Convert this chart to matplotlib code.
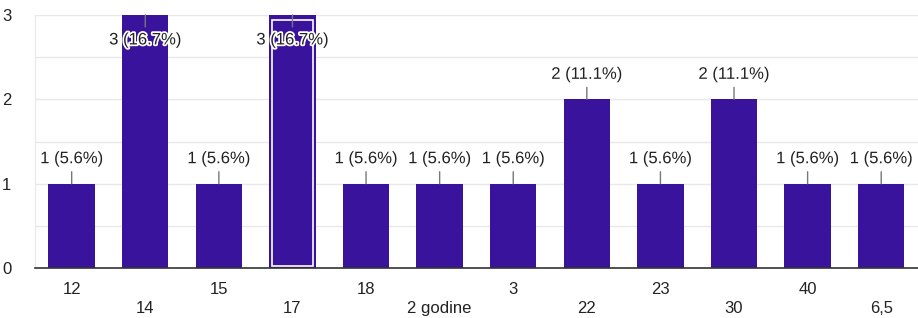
import matplotlib.pyplot as plt
import matplotlib.patheffects as pe
from matplotlib.patches import Rectangle

categories = ['12', '14', '15', '17', '18', '2 godine', '3', '22', '23', '30', '40', '6,5']
counts = [1, 3, 1, 3, 1, 1, 1, 2, 1, 2, 1, 1]
total = 18

bar_color = '#3a139c'
grid_color = '#e8e8e8'
text_color = '#222222'

plt.rcParams['font.family'] = ['Liberation Sans', 'DejaVu Sans']

fig = plt.figure(figsize=(9.18, 3.18), dpi=100)
ax = fig.add_axes([0.038, 0.157, 0.962, 0.796])

x = list(range(len(categories)))
bars = ax.bar(x, counts, width=0.63, color=bar_color, zorder=2)

# highlighted bar (17) gets an inner white frame
hb = bars[3]
ax.add_patch(Rectangle((hb.get_x() + 0.04, 0.03), hb.get_width() - 0.08, counts[3] - 0.09,
                       fill=False, edgecolor='white', lw=1.2, zorder=3))

ymax = max(counts)
for i, v in enumerate(counts):
    lab = '%d (%.1f%%)' % (v, v / total * 100)
    if v < ymax:
        off = 18
    else:
        off = -18
    ax.annotate(lab, xy=(i, v), xytext=(0, off), textcoords='offset points',
                ha='center', va='center', fontsize=12, color=text_color, zorder=5,
                path_effects=[pe.withStroke(linewidth=2.5, foreground='white')],
                arrowprops=dict(arrowstyle='-', color='#777777', lw=1, shrinkA=2, shrinkB=0))

ax.set_xlim(-0.5, 11.5)
ax.set_ylim(0, 3)
ax.set_yticks([0, 1, 2, 3])
ax.set_yticks([0.5, 1.5, 2.5], minor=True)
ax.grid(axis='y', which='both', color=grid_color, lw=1, zorder=0)
ax.set_axisbelow(True)

labels = [c if i % 2 == 0 else '\n' + c for i, c in enumerate(categories)]
ax.set_xticks(x)
ax.set_xticklabels(labels, linespacing=1.35)
ax.tick_params(axis='x', length=0, pad=10, labelsize=12, labelcolor=text_color)
ax.tick_params(axis='y', which='both', length=0, pad=17, labelsize=12, labelcolor=text_color)

for s in ['top', 'right']:
    ax.spines[s].set_visible(False)
ax.spines['left'].set_color(grid_color)
ax.spines['bottom'].set_color('#333333')
ax.spines['bottom'].set_linewidth(1.2)

fig.savefig('out.png', dpi=100)
